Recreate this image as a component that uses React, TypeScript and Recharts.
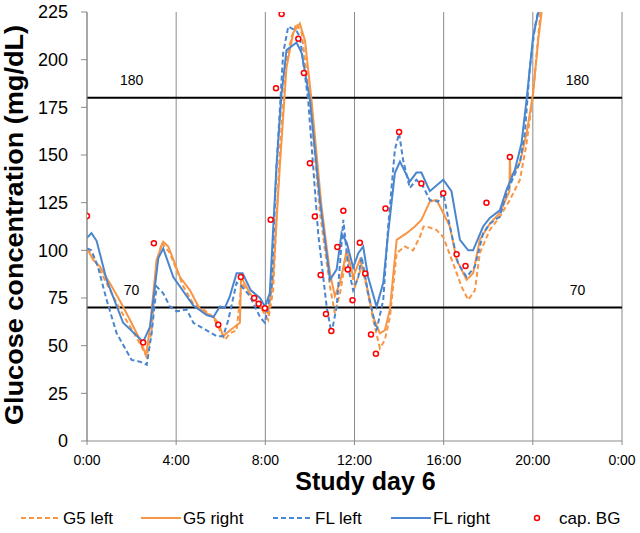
import React from 'react';
import { LineChart, Line, XAxis, YAxis, CartesianGrid, ReferenceLine } from 'recharts';

const ORANGE = '#F79646';
const BLUE = '#4A86CF';
const FONT = '"Liberation Sans", Arial, Helvetica, sans-serif';

const hourTicks = [0, 4, 8, 12, 16, 20, 24];
const glucoseTicks = [0, 25, 50, 75, 100, 125, 150, 175, 200, 225];
const limits = [70, 180];

// [hour, mg/dL]
const g5Left = [
  [0, 101], [0.28, 97], [0.5, 91.5], [0.88, 82.7], [1.48, 69], [1.93, 60], [2.38, 51], [2.68, 44],
  [2.9, 58], [3.12, 93], [3.35, 104], [3.72, 98.5], [4.32, 81], [4.77, 72], [5.22, 69], [5.66, 65],
  [5.96, 58], [6.19, 53], [6.41, 56.5], [6.71, 58], [6.94, 83], [7.31, 76], [7.76, 70.5], [8.13, 63.5],
  [8.35, 79], [8.65, 152.7], [8.95, 200], [9.18, 212], [9.4, 219], [9.63, 214], [10.0, 179], [10.45, 119.6],
  [10.9, 81], [11.12, 67], [11.35, 77.5], [11.65, 98.5], [12.02, 81], [12.32, 91.5], [12.54, 81], [12.84, 63.5],
  [13.14, 48.6], [13.36, 53], [13.59, 65], [13.89, 98.5], [14.26, 102], [14.63, 100], [14.93, 107], [15.1, 112.5],
  [15.23, 112.5], [15.68, 110.7], [15.98, 107], [16.43, 93], [16.8, 81], [17.1, 74], [17.4, 79], [17.62, 98.5],
  [18.07, 110.7], [18.52, 117.7], [18.97, 126.4], [19.42, 137], [19.72, 156], [20.01, 182], [20.31, 221], [20.4, 235],
];

const g5Right = [
  [0, 101], [0.28, 95], [0.58, 91.5], [1.03, 82.7], [1.55, 72], [1.93, 63.5], [2.38, 53], [2.65, 45],
  [2.83, 60], [3.12, 95], [3.42, 104.5], [3.65, 102], [4.17, 86], [4.62, 79], [5.07, 69], [5.66, 65],
  [5.89, 62], [6.11, 55], [6.41, 58], [6.86, 62], [6.91, 86], [7.31, 77.5], [7.76, 70.5], [8.13, 67],
  [8.35, 86], [8.65, 144], [8.95, 196], [9.25, 214], [9.55, 219], [9.78, 210], [10.07, 179], [10.52, 123],
  [10.9, 88], [11.12, 76], [11.35, 83], [11.65, 100], [11.94, 86], [12.24, 95], [12.47, 86], [12.84, 65],
  [13.14, 56.5], [13.36, 58], [13.59, 69], [13.89, 105.5], [14.34, 109], [14.71, 112.5], [15.0, 116], [15.38, 125.6],
  [15.68, 126.4], [15.98, 119.6], [16.28, 112.5], [16.58, 95], [17.03, 84.5], [17.32, 88], [17.62, 105.5], [18.07, 114],
  [18.52, 119.6], [18.95, 131], [18.97, 149], [19.0, 138], [19.42, 146], [19.72, 161.5], [20.01, 182], [20.24, 210],
  [20.39, 224.5], [20.5, 238],
];

const flLeft = [
  [0, 101], [0.2, 100], [0.5, 91], [0.88, 74], [1.33, 56.5], [2.0, 42.5], [2.38, 41.6], [2.68, 40],
  [2.9, 56.5], [3.12, 81], [3.42, 77.5], [3.72, 70.5], [4.02, 68], [4.47, 69], [4.77, 62], [5.37, 58],
  [5.82, 55], [6.11, 55], [6.34, 63.5], [6.71, 83], [6.94, 81], [7.31, 76], [7.76, 65], [7.98, 62],
  [8.28, 81], [8.5, 144], [8.8, 203.5], [9.03, 217.4], [9.4, 215], [9.55, 212], [9.92, 179], [10.37, 109],
  [10.75, 70.5], [10.97, 56.5], [11.2, 70.5], [11.5, 116], [11.72, 91], [11.94, 79], [12.17, 86], [12.32, 96.7],
  [12.61, 77.5], [12.99, 58], [13.29, 74], [13.51, 112.5], [13.81, 152.7], [14.0, 161.4], [14.18, 147.4], [14.48, 132.7],
  [14.78, 137], [15.08, 133.4], [15.38, 126.4], [15.75, 125.5], [15.98, 130], [16.28, 112.5], [16.65, 93], [17.03, 86],
  [17.4, 91.5], [17.77, 109], [18.07, 114], [18.52, 117.7], [18.82, 130], [19.27, 142], [19.42, 146], [19.64, 161.5],
  [19.87, 196], [20.09, 217], [20.22, 224.5], [20.35, 235],
];

const flRight = [
  [0, 106.5], [0.2, 109], [0.43, 105], [0.88, 84.5], [1.62, 62], [2.52, 52], [2.83, 60], [3.2, 96],
  [3.42, 101], [3.87, 86], [4.77, 71], [5.37, 66], [5.67, 65], [5.96, 70.5], [6.19, 70], [6.41, 76],
  [6.71, 88], [6.98, 88], [7.35, 79], [7.76, 75], [7.98, 70.5], [8.2, 77.5], [8.5, 144], [8.73, 182.5],
  [8.95, 205], [9.4, 209], [9.63, 203.5], [10.0, 179], [10.45, 126], [10.9, 84.5], [11.2, 90], [11.42, 109],
  [11.65, 104], [11.94, 91], [12.17, 98.5], [12.39, 102], [12.61, 86], [12.99, 70.5], [13.29, 83], [13.51, 109],
  [13.81, 140.5], [14.04, 146.5], [14.48, 136], [14.78, 140.8], [15.0, 140.8], [15.38, 131], [15.98, 137], [16.35, 131],
  [16.73, 105.5], [17.1, 100], [17.32, 100], [17.77, 112.5], [18.07, 117], [18.52, 121], [18.82, 131.7], [19.19, 142],
  [19.49, 156], [19.72, 179], [20.01, 212], [20.24, 224.5], [20.45, 240],
];

const capBG = [
  [0, 118], [2.52, 51.6], [3.0, 103.7], [5.89, 61], [6.9, 86], [7.5, 75], [7.7, 72], [7.98, 69.6],
  [8.24, 116], [8.48, 185], [8.73, 224], [9.48, 211], [9.73, 193], [10.0, 145.7], [10.22, 117.7], [10.48, 87],
  [10.72, 66.6], [10.96, 57.7], [11.23, 101.8], [11.5, 120.8], [11.7, 90], [11.91, 73.8], [12.24, 104], [12.48, 87.8],
  [12.74, 55.8], [12.96, 45.8], [13.39, 122], [14.0, 162], [15.0, 135], [15.98, 130], [16.58, 98], [16.98, 91.8],
  [17.92, 125], [18.97, 149],
];

const toRows = (pts: number[][]) => pts.map(([h, v]) => ({ h, v }));

const fmtHour = (h: number) => `${h % 24}:00`;

const LimitLabel = ({ viewBox, value }: any) => {
  const { x, y, width } = viewBox;
  const style = { fontSize: 14, fontFamily: FONT, fill: '#000' };
  return (
    <g>
      <text x={x + width * (2 / 24)} y={y - 13} textAnchor="middle" style={style}>{value}</text>
      <text x={x + width * (22 / 24)} y={y - 13} textAnchor="middle" style={style}>{value}</text>
    </g>
  );
};

const legendItems = [
  { name: 'G5 left', color: ORANGE, dash: '5 3', x: 21 },
  { name: 'G5 right', color: ORANGE, dash: undefined, x: 141 },
  { name: 'FL left', color: BLUE, dash: '5 3', x: 273 },
  { name: 'FL right', color: BLUE, dash: undefined, x: 391 },
];

export default function App() {
  return (
    <div style={{ position: 'absolute', left: 0, top: 0, width: 640, height: 533, background: '#fff' }}>
      <LineChart width={640} height={500} margin={{ top: 12, right: 18, bottom: 0, left: 0 }}>
        <CartesianGrid vertical horizontal={false} stroke="#8a8a8a" strokeWidth={1} />
        <XAxis
          type="number"
          dataKey="h"
          domain={[0, 24]}
          ticks={hourTicks}
          tickFormatter={fmtHour}
          allowDataOverflow
          height={59}
          stroke="#8a8a8a"
          tickSize={4}
          tickMargin={10}
          tick={{ fontSize: 14, fill: '#000', fontFamily: FONT }}
          label={{
            value: 'Study day 6',
            position: 'insideBottom',
            offset: 10,
            dx: 11,
            style: { fontSize: 25, fontWeight: 'bold', fill: '#000', fontFamily: FONT },
          }}
        />
        <YAxis
          type="number"
          domain={[0, 225]}
          ticks={glucoseTicks}
          allowDataOverflow
          width={87}
          stroke="#8a8a8a"
          tickSize={6}
          tickMargin={13}
          tick={{ fontSize: 18, fill: '#000', fontFamily: FONT }}
          label={{
            content: () => (
              <text
                transform="translate(23, 225) rotate(-90)"
                textAnchor="middle"
                textLength={400}
                lengthAdjust="spacingAndGlyphs"
                style={{ fontSize: 26, fontWeight: 'bold', fill: '#000', fontFamily: FONT }}
              >
                Glucose concentration (mg/dL)
              </text>
            ),
          }}
        />
        {limits.map((l) => (
          <ReferenceLine key={l} y={l} stroke="#000" strokeWidth={2} label={<LimitLabel value={l} />} />
        ))}
        <Line data={toRows(g5Left)} dataKey="v" name="G5 left" stroke={ORANGE} strokeWidth={2} strokeDasharray="5 3" dot={false} isAnimationActive={false} />
        <Line data={toRows(g5Right)} dataKey="v" name="G5 right" stroke={ORANGE} strokeWidth={2} dot={false} isAnimationActive={false} />
        <Line data={toRows(flLeft)} dataKey="v" name="FL left" stroke={BLUE} strokeWidth={2} strokeDasharray="5 3" dot={false} isAnimationActive={false} />
        <Line data={toRows(flRight)} dataKey="v" name="FL right" stroke={BLUE} strokeWidth={2} dot={false} isAnimationActive={false} />
        <Line
          data={toRows(capBG)}
          dataKey="v"
          name="cap. BG"
          stroke="none"
          dot={{ r: 2.5, stroke: '#FF0000', strokeWidth: 1.5, fill: '#fff' }}
          isAnimationActive={false}
        />
      </LineChart>
      <svg width={640} height={33} style={{ position: 'absolute', left: 0, top: 500 }}>
        {legendItems.map((it) => (
          <g key={it.name}>
            <line x1={it.x} x2={it.x + 40} y1={18} y2={18} stroke={it.color} strokeWidth={2} strokeDasharray={it.dash} />
            <text x={it.x + 42} y={24} style={{ fontSize: 17, fontFamily: FONT, fill: '#000' }}>{it.name}</text>
          </g>
        ))}
        <circle cx={537} cy={18} r={2.5} stroke="#FF0000" strokeWidth={1.5} fill="#fff" />
        <text x={559} y={24} style={{ fontSize: 17, fontFamily: FONT, fill: '#000' }}>cap. BG</text>
      </svg>
    </div>
  );
}
